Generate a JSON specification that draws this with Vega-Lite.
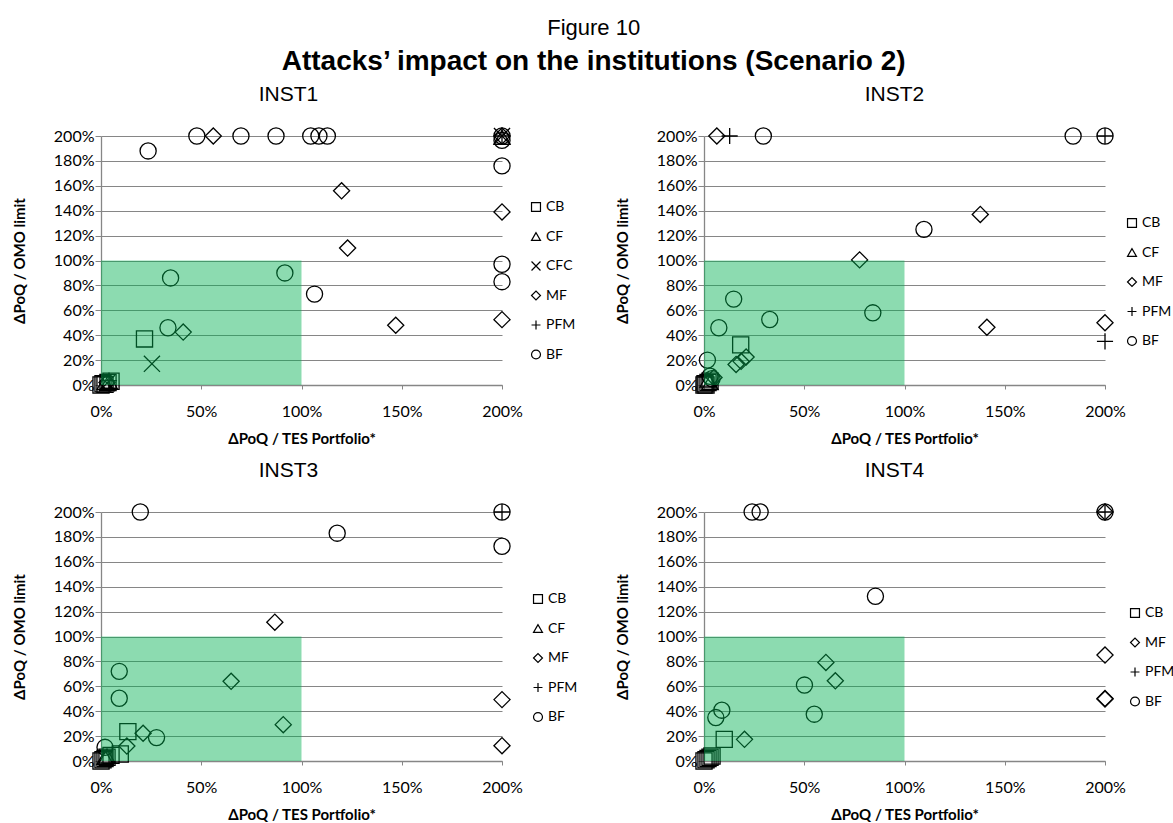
{
  "$schema": "https://vega.github.io/schema/vega-lite/v6.json",
  "background": "white",
  "padding": {"left": 12, "top": 17, "right": 0, "bottom": 5},
  "title": {
    "text": "Figure 10",
    "subtitle": "Attacks’ impact on the institutions (Scenario 2)",
    "anchor": "middle",
    "font": "Liberation Sans",
    "fontSize": 22,
    "fontWeight": "normal",
    "color": "black",
    "subtitleFont": "Liberation Sans",
    "subtitleFontSize": 28,
    "subtitleFontWeight": "bold",
    "subtitleColor": "black",
    "subtitlePadding": 8,
    "offset": 7
  },
  "datasets": {
    "zone": [{"x": 0, "x2": 1, "y": 0, "y2": 1}],
    "pts": [
      {"inst": "INST1", "type": "BF", "x": 0.235, "y": 1.88},
      {"inst": "INST1", "type": "BF", "x": 0.478, "y": 2.0},
      {"inst": "INST1", "type": "BF", "x": 0.698, "y": 2.0},
      {"inst": "INST1", "type": "BF", "x": 0.873, "y": 2.0},
      {"inst": "INST1", "type": "BF", "x": 1.046, "y": 2.0},
      {"inst": "INST1", "type": "BF", "x": 1.087, "y": 2.0},
      {"inst": "INST1", "type": "BF", "x": 1.129, "y": 2.0},
      {"inst": "INST1", "type": "BF", "x": 2.0, "y": 2.0},
      {"inst": "INST1", "type": "BF", "x": 2.0, "y": 1.965},
      {"inst": "INST1", "type": "BF", "x": 2.0, "y": 1.76},
      {"inst": "INST1", "type": "BF", "x": 2.0, "y": 0.97},
      {"inst": "INST1", "type": "BF", "x": 2.0, "y": 0.83},
      {"inst": "INST1", "type": "BF", "x": 1.065, "y": 0.73},
      {"inst": "INST1", "type": "BF", "x": 0.347, "y": 0.86},
      {"inst": "INST1", "type": "BF", "x": 0.917, "y": 0.9},
      {"inst": "INST1", "type": "BF", "x": 0.334, "y": 0.46},
      {"inst": "INST1", "type": "MF", "x": 0.56, "y": 2.0},
      {"inst": "INST1", "type": "MF", "x": 1.2, "y": 1.56},
      {"inst": "INST1", "type": "MF", "x": 2.0, "y": 1.39},
      {"inst": "INST1", "type": "MF", "x": 1.23, "y": 1.1},
      {"inst": "INST1", "type": "MF", "x": 1.47, "y": 0.48},
      {"inst": "INST1", "type": "MF", "x": 2.0, "y": 0.525},
      {"inst": "INST1", "type": "MF", "x": 0.41, "y": 0.425},
      {"inst": "INST1", "type": "MF", "x": 2.0, "y": 2.0},
      {"inst": "INST1", "type": "MF", "x": 0.03, "y": 0.02},
      {"inst": "INST1", "type": "CB", "x": 0.217, "y": 0.37},
      {"inst": "INST1", "type": "CB", "x": 0.0, "y": 0.0},
      {"inst": "INST1", "type": "CB", "x": 0.01, "y": 0.01},
      {"inst": "INST1", "type": "CB", "x": 0.02, "y": 0.005},
      {"inst": "INST1", "type": "CB", "x": 0.035, "y": 0.02},
      {"inst": "INST1", "type": "CB", "x": 0.05, "y": 0.03},
      {"inst": "INST1", "type": "CF", "x": 0.02, "y": 0.02},
      {"inst": "INST1", "type": "CF", "x": 0.04, "y": 0.03},
      {"inst": "INST1", "type": "CF", "x": 2.0, "y": 1.99},
      {"inst": "INST1", "type": "CFC", "x": 0.254, "y": 0.17},
      {"inst": "INST1", "type": "CFC", "x": 2.0, "y": 2.0},
      {"inst": "INST1", "type": "CFC", "x": 0.03, "y": 0.015},
      {"inst": "INST1", "type": "PFM", "x": 2.0, "y": 2.0},
      {"inst": "INST1", "type": "PFM", "x": 0.04, "y": 0.035},

      {"inst": "INST2", "type": "BF", "x": 0.296, "y": 2.0},
      {"inst": "INST2", "type": "BF", "x": 1.841, "y": 2.0},
      {"inst": "INST2", "type": "BF", "x": 2.0, "y": 2.0},
      {"inst": "INST2", "type": "BF", "x": 1.097, "y": 1.25},
      {"inst": "INST2", "type": "BF", "x": 0.148, "y": 0.69},
      {"inst": "INST2", "type": "BF", "x": 0.328, "y": 0.526},
      {"inst": "INST2", "type": "BF", "x": 0.842, "y": 0.58},
      {"inst": "INST2", "type": "BF", "x": 0.074, "y": 0.46},
      {"inst": "INST2", "type": "BF", "x": 0.017, "y": 0.2},
      {"inst": "INST2", "type": "BF", "x": 0.03, "y": 0.07},
      {"inst": "INST2", "type": "BF", "x": 0.04, "y": 0.05},
      {"inst": "INST2", "type": "MF", "x": 0.064, "y": 2.0},
      {"inst": "INST2", "type": "MF", "x": 1.378, "y": 1.37},
      {"inst": "INST2", "type": "MF", "x": 0.776, "y": 1.005},
      {"inst": "INST2", "type": "MF", "x": 1.411, "y": 0.464},
      {"inst": "INST2", "type": "MF", "x": 2.0, "y": 0.5},
      {"inst": "INST2", "type": "MF", "x": 0.16, "y": 0.165},
      {"inst": "INST2", "type": "MF", "x": 0.185, "y": 0.19},
      {"inst": "INST2", "type": "MF", "x": 0.21, "y": 0.225},
      {"inst": "INST2", "type": "MF", "x": 0.05, "y": 0.06},
      {"inst": "INST2", "type": "PFM", "x": 0.128, "y": 2.0},
      {"inst": "INST2", "type": "PFM", "x": 2.0, "y": 2.0},
      {"inst": "INST2", "type": "PFM", "x": 2.0, "y": 0.35},
      {"inst": "INST2", "type": "CB", "x": 0.183, "y": 0.322},
      {"inst": "INST2", "type": "CB", "x": 0.0, "y": 0.0},
      {"inst": "INST2", "type": "CB", "x": 0.005, "y": 0.01},
      {"inst": "INST2", "type": "CB", "x": 0.01, "y": 0.0},
      {"inst": "INST2", "type": "CB", "x": 0.02, "y": 0.02},
      {"inst": "INST2", "type": "CB", "x": 0.03, "y": 0.03},
      {"inst": "INST2", "type": "CF", "x": 0.02, "y": 0.04},
      {"inst": "INST2", "type": "CF", "x": 0.03, "y": 0.02},

      {"inst": "INST3", "type": "BF", "x": 0.196, "y": 2.0},
      {"inst": "INST3", "type": "BF", "x": 1.178, "y": 1.83},
      {"inst": "INST3", "type": "BF", "x": 2.0, "y": 2.0},
      {"inst": "INST3", "type": "BF", "x": 2.0, "y": 1.725},
      {"inst": "INST3", "type": "BF", "x": 0.091, "y": 0.72},
      {"inst": "INST3", "type": "BF", "x": 0.091, "y": 0.504},
      {"inst": "INST3", "type": "BF", "x": 0.277, "y": 0.188},
      {"inst": "INST3", "type": "BF", "x": 0.02, "y": 0.11},
      {"inst": "INST3", "type": "MF", "x": 0.867, "y": 1.115},
      {"inst": "INST3", "type": "MF", "x": 0.649, "y": 0.64},
      {"inst": "INST3", "type": "MF", "x": 0.909, "y": 0.292},
      {"inst": "INST3", "type": "MF", "x": 2.0, "y": 0.493},
      {"inst": "INST3", "type": "MF", "x": 2.0, "y": 0.123},
      {"inst": "INST3", "type": "MF", "x": 0.21, "y": 0.223},
      {"inst": "INST3", "type": "MF", "x": 0.129, "y": 0.12},
      {"inst": "INST3", "type": "CB", "x": 0.134, "y": 0.236},
      {"inst": "INST3", "type": "CB", "x": 0.096, "y": 0.056},
      {"inst": "INST3", "type": "CB", "x": 0.0, "y": 0.0},
      {"inst": "INST3", "type": "CB", "x": 0.01, "y": 0.01},
      {"inst": "INST3", "type": "CB", "x": 0.02, "y": 0.02},
      {"inst": "INST3", "type": "CB", "x": 0.03, "y": 0.03},
      {"inst": "INST3", "type": "CB", "x": 0.05, "y": 0.045},
      {"inst": "INST3", "type": "CF", "x": 0.03, "y": 0.04},
      {"inst": "INST3", "type": "CF", "x": 0.02, "y": 0.03},
      {"inst": "INST3", "type": "PFM", "x": 2.0, "y": 2.0},

      {"inst": "INST4", "type": "BF", "x": 0.24, "y": 2.0},
      {"inst": "INST4", "type": "BF", "x": 0.28, "y": 2.0},
      {"inst": "INST4", "type": "BF", "x": 2.0, "y": 2.0},
      {"inst": "INST4", "type": "BF", "x": 0.855, "y": 1.323},
      {"inst": "INST4", "type": "BF", "x": 0.501, "y": 0.61},
      {"inst": "INST4", "type": "BF", "x": 0.55, "y": 0.376},
      {"inst": "INST4", "type": "BF", "x": 0.089, "y": 0.408},
      {"inst": "INST4", "type": "BF", "x": 0.059, "y": 0.349},
      {"inst": "INST4", "type": "MF", "x": 2.0, "y": 2.0},
      {"inst": "INST4", "type": "MF", "x": 2.0, "y": 0.851},
      {"inst": "INST4", "type": "MF", "x": 2.0, "y": 0.497},
      {"inst": "INST4", "type": "MF", "x": 2.0, "y": 0.503},
      {"inst": "INST4", "type": "MF", "x": 0.608, "y": 0.792},
      {"inst": "INST4", "type": "MF", "x": 0.655, "y": 0.644},
      {"inst": "INST4", "type": "MF", "x": 0.202, "y": 0.174},
      {"inst": "INST4", "type": "PFM", "x": 2.0, "y": 2.0},
      {"inst": "INST4", "type": "CB", "x": 0.101, "y": 0.174},
      {"inst": "INST4", "type": "CB", "x": 0.0, "y": 0.0},
      {"inst": "INST4", "type": "CB", "x": 0.01, "y": 0.01},
      {"inst": "INST4", "type": "CB", "x": 0.02, "y": 0.02},
      {"inst": "INST4", "type": "CB", "x": 0.03, "y": 0.03},
      {"inst": "INST4", "type": "CB", "x": 0.04, "y": 0.04}
    ]
  },
  "columns": 2,
  "spacing": {"row": 14, "column": 37},
  "resolve": {
    "scale": {"shape": "independent", "x": "independent", "y": "independent"},
    "legend": {"shape": "independent"}
  },
  "concat": [
    {
      "width": 401, "height": 249,
      "title": {"text": "INST1", "dx": -13},
      "layer": [
        {
          "data": {"name": "pts"},
          "transform": [{"filter": "datum.inst === 'INST1'"}],
          "mark": {"type": "point", "filled": false, "stroke": "black", "strokeWidth": 1.3, "opacity": 1, "size": 260, "clip": false},
          "encoding": {
            "x": {"field": "x", "type": "quantitative", "title": "ΔPoQ / TES Portfolio*", "scale": {"domain": [0, 2], "nice": false, "zero": false},
                  "axis": {"values": [0, 0.5, 1, 1.5, 2], "format": ".0%", "grid": false, "tickSize": 4, "labelPadding": 14, "titlePadding": 12, "labelFlush": false, "labelOverlap": false}},
            "y": {"field": "y", "type": "quantitative", "title": "ΔPoQ / OMO limit", "scale": {"domain": [0, 2], "nice": false, "zero": false},
                  "axis": {"values": [0, 0.2, 0.4, 0.6, 0.8, 1, 1.2, 1.4, 1.6, 1.8, 2], "format": ".0%", "grid": true, "tickSize": 6, "labelPadding": 1, "titlePadding": 26, "labelFlush": false, "labelOverlap": false}},
            "shape": {"field": "type", "type": "nominal",
                      "scale": {"domain": ["CB", "CF", "CFC", "MF", "PFM", "BF"], "range": ["square", "triangle-up", "M-1,-1L1,1M-1,1L1,-1", "diamond", "M-1,0L1,0M0,-1L0,1", "circle"]},
                      "legend": {"title": null, "orient": "none", "legendX": 428, "legendY": 64}}
          }
        },
        {
          "data": {"name": "zone"},
          "mark": {"type": "rect", "fill": "#00B050", "opacity": 0.45},
          "encoding": {
            "x": {"field": "x", "type": "quantitative", "title": "ΔPoQ / TES Portfolio*",
                  "axis": {"values": [0, 0.5, 1, 1.5, 2], "format": ".0%", "grid": false, "tickSize": 4, "labelPadding": 14, "titlePadding": 12, "labelFlush": false, "labelOverlap": false}},
            "x2": {"field": "x2"},
            "y": {"field": "y", "type": "quantitative", "title": "ΔPoQ / OMO limit",
                  "axis": {"values": [0, 0.2, 0.4, 0.6, 0.8, 1, 1.2, 1.4, 1.6, 1.8, 2], "format": ".0%", "grid": true, "tickSize": 6, "labelPadding": 1, "titlePadding": 26, "labelFlush": false, "labelOverlap": false}},
            "y2": {"field": "y2"}
          }
        }
      ]
    },
    {
      "width": 401, "height": 249,
      "title": {"text": "INST2", "dx": -10},
      "layer": [
        {
          "data": {"name": "pts"},
          "transform": [{"filter": "datum.inst === 'INST2'"}],
          "mark": {"type": "point", "filled": false, "stroke": "black", "strokeWidth": 1.3, "opacity": 1, "size": 260, "clip": false},
          "encoding": {
            "x": {"field": "x", "type": "quantitative", "title": "ΔPoQ / TES Portfolio*", "scale": {"domain": [0, 2], "nice": false, "zero": false},
                  "axis": {"values": [0, 0.5, 1, 1.5, 2], "format": ".0%", "grid": false, "tickSize": 4, "labelPadding": 14, "titlePadding": 12, "labelFlush": false, "labelOverlap": false}},
            "y": {"field": "y", "type": "quantitative", "title": "ΔPoQ / OMO limit", "scale": {"domain": [0, 2], "nice": false, "zero": false},
                  "axis": {"values": [0, 0.2, 0.4, 0.6, 0.8, 1, 1.2, 1.4, 1.6, 1.8, 2], "format": ".0%", "grid": true, "tickSize": 6, "labelPadding": 1, "titlePadding": 26, "labelFlush": false, "labelOverlap": false}},
            "shape": {"field": "type", "type": "nominal",
                      "scale": {"domain": ["CB", "CF", "MF", "PFM", "BF"], "range": ["square", "triangle-up", "diamond", "M-1,0L1,0M0,-1L0,1", "circle"]},
                      "legend": {"title": null, "orient": "none", "legendX": 421, "legendY": 80}}
          }
        },
        {
          "data": {"name": "zone"},
          "mark": {"type": "rect", "fill": "#00B050", "opacity": 0.45},
          "encoding": {
            "x": {"field": "x", "type": "quantitative", "title": "ΔPoQ / TES Portfolio*",
                  "axis": {"values": [0, 0.5, 1, 1.5, 2], "format": ".0%", "grid": false, "tickSize": 4, "labelPadding": 14, "titlePadding": 12, "labelFlush": false, "labelOverlap": false}},
            "x2": {"field": "x2"},
            "y": {"field": "y", "type": "quantitative", "title": "ΔPoQ / OMO limit",
                  "axis": {"values": [0, 0.2, 0.4, 0.6, 0.8, 1, 1.2, 1.4, 1.6, 1.8, 2], "format": ".0%", "grid": true, "tickSize": 6, "labelPadding": 1, "titlePadding": 26, "labelFlush": false, "labelOverlap": false}},
            "y2": {"field": "y2"}
          }
        }
      ]
    },
    {
      "width": 401, "height": 249,
      "title": {"text": "INST3", "dx": -13},
      "layer": [
        {
          "data": {"name": "pts"},
          "transform": [{"filter": "datum.inst === 'INST3'"}],
          "mark": {"type": "point", "filled": false, "stroke": "black", "strokeWidth": 1.3, "opacity": 1, "size": 260, "clip": false},
          "encoding": {
            "x": {"field": "x", "type": "quantitative", "title": "ΔPoQ / TES Portfolio*", "scale": {"domain": [0, 2], "nice": false, "zero": false},
                  "axis": {"values": [0, 0.5, 1, 1.5, 2], "format": ".0%", "grid": false, "tickSize": 4, "labelPadding": 14, "titlePadding": 12, "labelFlush": false, "labelOverlap": false}},
            "y": {"field": "y", "type": "quantitative", "title": "ΔPoQ / OMO limit", "scale": {"domain": [0, 2], "nice": false, "zero": false},
                  "axis": {"values": [0, 0.2, 0.4, 0.6, 0.8, 1, 1.2, 1.4, 1.6, 1.8, 2], "format": ".0%", "grid": true, "tickSize": 6, "labelPadding": 1, "titlePadding": 26, "labelFlush": false, "labelOverlap": false}},
            "shape": {"field": "type", "type": "nominal",
                      "scale": {"domain": ["CB", "CF", "MF", "PFM", "BF"], "range": ["square", "triangle-up", "diamond", "M-1,0L1,0M0,-1L0,1", "circle"]},
                      "legend": {"title": null, "orient": "none", "legendX": 430, "legendY": 80}}
          }
        },
        {
          "data": {"name": "zone"},
          "mark": {"type": "rect", "fill": "#00B050", "opacity": 0.45},
          "encoding": {
            "x": {"field": "x", "type": "quantitative", "title": "ΔPoQ / TES Portfolio*",
                  "axis": {"values": [0, 0.5, 1, 1.5, 2], "format": ".0%", "grid": false, "tickSize": 4, "labelPadding": 14, "titlePadding": 12, "labelFlush": false, "labelOverlap": false}},
            "x2": {"field": "x2"},
            "y": {"field": "y", "type": "quantitative", "title": "ΔPoQ / OMO limit",
                  "axis": {"values": [0, 0.2, 0.4, 0.6, 0.8, 1, 1.2, 1.4, 1.6, 1.8, 2], "format": ".0%", "grid": true, "tickSize": 6, "labelPadding": 1, "titlePadding": 26, "labelFlush": false, "labelOverlap": false}},
            "y2": {"field": "y2"}
          }
        }
      ]
    },
    {
      "width": 401, "height": 249,
      "title": {"text": "INST4", "dx": -10},
      "layer": [
        {
          "data": {"name": "pts"},
          "transform": [{"filter": "datum.inst === 'INST4'"}],
          "mark": {"type": "point", "filled": false, "stroke": "black", "strokeWidth": 1.3, "opacity": 1, "size": 260, "clip": false},
          "encoding": {
            "x": {"field": "x", "type": "quantitative", "title": "ΔPoQ / TES Portfolio*", "scale": {"domain": [0, 2], "nice": false, "zero": false},
                  "axis": {"values": [0, 0.5, 1, 1.5, 2], "format": ".0%", "grid": false, "tickSize": 4, "labelPadding": 14, "titlePadding": 12, "labelFlush": false, "labelOverlap": false}},
            "y": {"field": "y", "type": "quantitative", "title": "ΔPoQ / OMO limit", "scale": {"domain": [0, 2], "nice": false, "zero": false},
                  "axis": {"values": [0, 0.2, 0.4, 0.6, 0.8, 1, 1.2, 1.4, 1.6, 1.8, 2], "format": ".0%", "grid": true, "tickSize": 6, "labelPadding": 1, "titlePadding": 26, "labelFlush": false, "labelOverlap": false}},
            "shape": {"field": "type", "type": "nominal",
                      "scale": {"domain": ["CB", "MF", "PFM", "BF"], "range": ["square", "diamond", "M-1,0L1,0M0,-1L0,1", "circle"]},
                      "legend": {"title": null, "orient": "none", "legendX": 424, "legendY": 94}}
          }
        },
        {
          "data": {"name": "zone"},
          "mark": {"type": "rect", "fill": "#00B050", "opacity": 0.45},
          "encoding": {
            "x": {"field": "x", "type": "quantitative", "title": "ΔPoQ / TES Portfolio*",
                  "axis": {"values": [0, 0.5, 1, 1.5, 2], "format": ".0%", "grid": false, "tickSize": 4, "labelPadding": 14, "titlePadding": 12, "labelFlush": false, "labelOverlap": false}},
            "x2": {"field": "x2"},
            "y": {"field": "y", "type": "quantitative", "title": "ΔPoQ / OMO limit",
                  "axis": {"values": [0, 0.2, 0.4, 0.6, 0.8, 1, 1.2, 1.4, 1.6, 1.8, 2], "format": ".0%", "grid": true, "tickSize": 6, "labelPadding": 1, "titlePadding": 26, "labelFlush": false, "labelOverlap": false}},
            "y2": {"field": "y2"}
          }
        }
      ]
    }
  ],
  "config": {
    "view": {"stroke": null},
    "title": {"font": "Liberation Sans", "fontSize": 21, "fontWeight": "normal", "color": "black", "offset": 20},
    "axis": {
      "labelFont": "Lato", "labelFontSize": 16, "labelColor": "black",
      "titleFont": "Lato", "titleFontSize": 15, "titleFontWeight": "bold", "titleColor": "black",
      "domainColor": "#868686", "tickColor": "#868686", "gridColor": "#868686", "gridOpacity": 1, "domainWidth": 1.3
    },
    "legend": {
      "labelFont": "Lato", "labelFontSize": 14, "labelColor": "black",
      "symbolSize": 80, "symbolStrokeColor": "black", "symbolFillColor": "transparent", "symbolStrokeWidth": 1.2,
      "rowPadding": 15.5, "padding": 0, "labelOffset": 3
    }
  }
}
